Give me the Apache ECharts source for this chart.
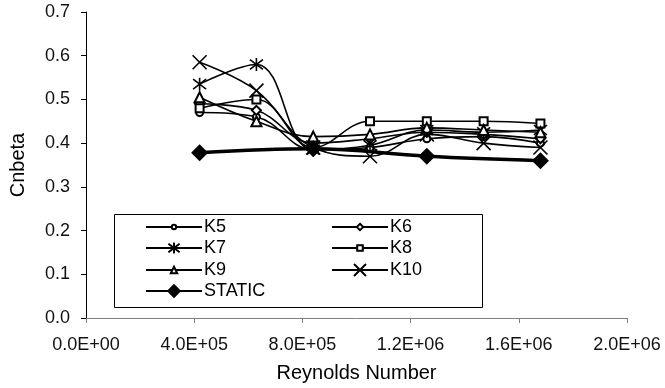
<!DOCTYPE html>
<html>
<head>
<meta charset="utf-8">
<script src="https://cdn.jsdelivr.net/npm/echarts@6/dist/echarts.min.js"></script>
<style>html,body{margin:0;padding:0;background:#fff}#c{width:665px;height:388px}</style>
</head>
<body>
<div id="c"></div>
<script>
const reynolds = [420000, 630000, 840000, 1050000, 1260000, 1470000, 1680000];
const staticRe = [420000, 840000, 1260000, 1680000];
const k5 = [0.470, 0.460, 0.385, 0.390, 0.410, 0.415, 0.400];
const k6 = [0.490, 0.475, 0.400, 0.410, 0.425, 0.420, 0.410];
const k7 = [0.535, 0.580, 0.385, 0.395, 0.430, 0.425, 0.430];
const k8 = [0.480, 0.500, 0.390, 0.450, 0.450, 0.450, 0.445];
const k9 = [0.505, 0.450, 0.415, 0.420, 0.435, 0.430, 0.425];
const k10 = [0.585, 0.520, 0.390, 0.370, 0.420, 0.400, 0.390];
const staticVals = [0.378, 0.387, 0.370, 0.360];
const xTicks = [0, 400000, 800000, 1200000, 1600000, 2000000];
const seriesNames = ['K5', 'K6', 'K7', 'K8', 'K9', 'K10', 'STATIC'];

const FONT = 'Liberation Sans';
function sci(v) {
  if (v === 0) return '0.0E+00';
  const e = Math.floor(Math.log10(v) + 1e-9);
  const m = v / Math.pow(10, e);
  return m.toFixed(1) + 'E+' + String(e).padStart(2, '0');
}
function pairs(xs, ys) { return xs.map((x, i) => [x, ys[i]]); }

const asterisk = 'path://M5,0L5,10M1.2,1.2L8.8,8.8M8.8,1.2L1.2,8.8';
const cross = 'path://M0,0L10,10M10,0L0,10';

function lineSeries(name, ys, symbol, size, extra) {
  return Object.assign({
    name: name,
    type: 'line',
    data: pairs(reynolds, ys),
    smooth: 0.4,
    symbol: symbol,
    symbolSize: size,
    showAllSymbol: true,
    lineStyle: { color: '#000', width: 1.6 },
    itemStyle: { color: '#000', borderColor: '#000', borderWidth: 1.3 },
    emphasis: { disabled: true }
  }, extra || {});
}

const series = [
  lineSeries('K5', k5, 'emptyCircle', 7),
  lineSeries('K6', k6, 'emptyDiamond', 9),
  lineSeries('K7', k7, asterisk, 13, { itemStyle: { color: '#000', borderColor: '#000', borderWidth: 1.6 } }),
  lineSeries('K8', k8, 'emptyRect', 8),
  lineSeries('K9', k9, 'emptyTriangle', 10),
  lineSeries('K10', k10, cross, 14, { itemStyle: { color: '#000', borderColor: '#000', borderWidth: 1.6 } }),
  {
    name: 'STATIC', type: 'line', data: pairs(staticRe, staticVals), smooth: 0.4,
    symbol: 'diamond', symbolSize: 17,
    lineStyle: { color: '#000', width: 3.5 },
    itemStyle: { color: '#000' },
    emphasis: { disabled: true }
  }
];

function leg(name, left, rowCenter, ih) {
  return {
    data: [name], left: left, top: rowCenter - 9, padding: 0,
    itemWidth: 56, itemHeight: ih, selectedMode: false,
    textStyle: { fontFamily: FONT, fontSize: 18, color: '#000', padding: [0, 0, 0, -3] }
  };
}

const chart = echarts.init(document.getElementById('c'), null, { renderer: 'canvas' });
chart.setOption({
  animation: false,
  backgroundColor: '#fff',
  grid: { left: 78, right: 38, top: 12, bottom: 66, containLabel: false },
  xAxis: {
    type: 'value', min: 0, max: 2000000, interval: 400000,
    name: 'Reynolds Number', nameLocation: 'middle', nameGap: 45,
    nameTextStyle: { fontFamily: FONT, fontSize: 20, color: '#000' },
    axisLine: { lineStyle: { color: '#808080', width: 1 } },
    axisTick: { show: true, length: 5, lineStyle: { color: '#808080' } },
    axisLabel: { fontFamily: FONT, fontSize: 18, color: '#111', margin: 18, formatter: v => sci(v) },
    splitLine: { show: false }
  },
  yAxis: {
    type: 'value', min: 0, max: 0.7, interval: 0.1,
    name: 'Cnbeta', nameLocation: 'middle', nameGap: 58,
    nameTextStyle: { fontFamily: FONT, fontSize: 20, color: '#000' },
    axisLine: { show: true, lineStyle: { color: '#000', width: 1 } },
    axisTick: { show: true, length: 5, lineStyle: { color: '#000' } },
    axisLabel: { fontFamily: FONT, fontSize: 18, color: '#111', margin: 16, formatter: v => v.toFixed(1) },
    splitLine: { show: false }
  },
  legend: [
    leg('K5', 145, 227, 5.5),
    leg('K7', 145, 248, 14),
    leg('K9', 145, 270, 8),
    leg('STATIC', 145, 291, 18),
    leg('K6', 331, 227, 8),
    leg('K8', 331, 248, 7),
    leg('K10', 331, 270, 15)
  ],
  graphic: [{
    type: 'rect', left: 114, top: 214,
    shape: { width: 368, height: 93 },
    style: { fill: 'rgba(0,0,0,0)', stroke: '#000', lineWidth: 1 },
    z: -1
  }],
  series: series
});
</script>
</body>
</html>
